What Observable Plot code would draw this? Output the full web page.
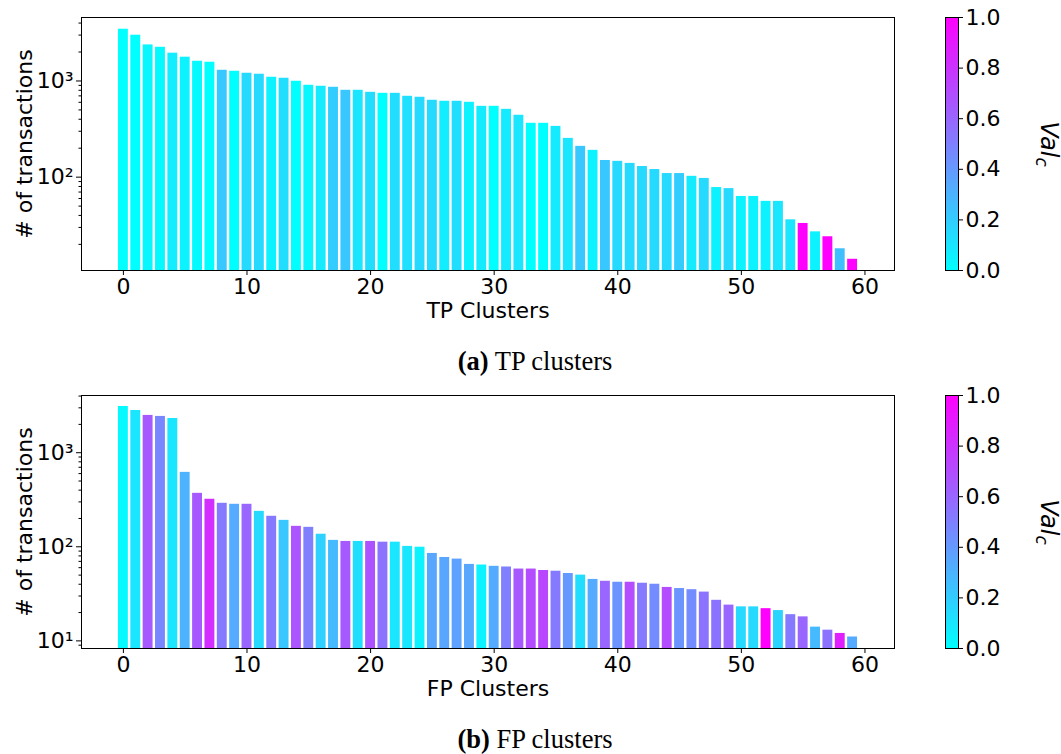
<!DOCTYPE html>
<html><head><meta charset="utf-8">
<script src="https://cdn.jsdelivr.net/npm/d3@7"></script>
<script src="https://cdn.jsdelivr.net/npm/@observablehq/plot@0.6"></script>
<style>
body{margin:0;background:#fff;}
#root{position:relative;width:1061px;height:754px;overflow:hidden;font-family:"DejaVu Sans",sans-serif;}
#root svg{position:absolute;}
#root svg text{font-family:"DejaVu Sans",sans-serif;}
.caption{position:absolute;white-space:nowrap;transform:translateX(-50%);font-family:"Liberation Serif","Times New Roman",serif;font-size:26.5px;line-height:26.5px;color:#000;}
.vlabel{position:absolute;white-space:nowrap;font-family:"DejaVu Sans",sans-serif;font-size:24px;font-style:italic;color:#000;transform:translate(-50%,-50%) rotate(90deg);}
.vlabel sub{font-size:17px;vertical-align:-5px;}
</style></head>
<body><div id="root"></div>
<script>
// ---- data ----
const clusters = [0,1,2,3,4,5,6,7,8,9,10,11,12,13,14,15,16,17,18,19,20,21,22,23,24,25,26,27,28,29,
  30,31,32,33,34,35,36,37,38,39,40,41,42,43,44,45,46,47,48,49,50,51,52,53,54,55,56,57,58,59];
const tpCounts = [3450,2990,2370,2240,1945,1767,1603,1566,1292,1262,1203,1175,1093,1067,993,902,881,860,800,800,
  762,744,744,693,677,630,615,615,600,545,545,507,440,363,363,337,253,209,190,149,
  146,139,129,120,109,109,102,97,78,76,63,63,56,56,36,33,27,24,18,14];
const tpVal = [0,0,0.03,0.02,0.07,0.05,0.02,0,0.22,0,0.15,0.15,0.05,0.13,0,0.03,0.08,0.2,0.22,0.1,
  0.13,0,0.13,0.12,0.15,0.15,0.07,0.13,0.05,0.08,0,0.08,0.1,0,0,0.08,0.1,0.22,0.05,0.22,
  0.15,0.15,0.15,0.15,0.15,0.2,0.08,0.15,0.05,0.15,0.05,0.05,0.05,0.1,0.1,1,0.05,1,0.25,1];
const fpCounts = [3100,2810,2490,2430,2310,618,370,320,290,283,283,238,211,191,165,161,136,117,114,114,
  114,112,112,101,99,85,77,74,65,64,62,61,58,58,56,55,52,50,45,43,
  42,42,41,40,37,36,35,33,27,24,23,23,22,21,19,18,14,13,12,11];
const fpVal = [0.02,0.1,0.65,0.47,0.1,0.3,0.65,0.82,0.52,0.33,0.6,0.15,0.52,0.22,0.67,0.5,0.18,0.27,0.65,0.13,
  0.68,0.55,0.1,0.1,0.05,0.35,0.35,0.37,0.35,0.05,0.33,0.5,0.65,0.7,0.72,0.52,0.4,0.13,0.33,0.6,
  0.42,0.7,0.52,0.45,0.7,0.42,0.45,0.55,0.55,0.6,0.15,0.15,1,0.17,0.52,0.6,0.27,0.55,0.88,0.33];
const xTicks = [0,10,20,30,40,50,60];
const tpMajor = [100,1000];
const tpMinor = [20,30,40,50,60,70,80,90,200,300,400,500,600,700,800,900,2000,3000,4000];
const fpMajor = [10,100,1000];
const fpMinor = [9,20,30,40,50,60,70,80,90,200,300,400,500,600,700,800,900,2000,3000,4000];
const cbTicks = [0,0.2,0.4,0.6,0.8,1.0];
const captions = [["(a)"," TP clusters"],["(b)"," FP clusters"]];

const sup = {1:"\u00B9",2:"\u00B2",3:"\u00B3"};
const fmtPow = d => "10" + sup[Math.round(Math.log10(d))];
const colorScale = {type:"linear", domain:[0,1], range:["#00ffff","#ff00ff"], interpolate:"rgb"};
const FS = 22;
const baseStyle = {fontFamily:"DejaVu Sans", fontSize:FS + "px", color:"#000", background:"transparent", overflow:"visible"};

function panel(counts, vals, xLabel, yDomain, major, minor) {
  const data = clusters.map((c,i)=>({c, n:counts[i], v:vals[i]}));
  return Plot.plot({
    width:900, height:330, marginLeft:81, marginRight:6, marginTop:17, marginBottom:60,
    style: baseStyle,
    x:{domain:[-3.39, 62.39]},
    y:{type:"log", domain:yDomain},
    color: colorScale,
    marks:[
      Plot.rect(data, {x1:d=>d.c-0.4, x2:d=>d.c+0.4, y1:()=>1, y2:"n", fill:"v", clip:true}),
      Plot.axisX({ticks:xTicks, tickSize:5, tickPadding:3, fontSize:FS, tickFormat:d=>String(d), label:xLabel, labelAnchor:"center", labelArrow:"none", labelOffset:47}),
      Plot.axisY({ticks:major, tickSize:5, tickPadding:3, fontSize:FS, tickFormat:fmtPow, label:"# of transactions", labelAnchor:"center", labelArrow:"none", labelOffset:65}),
      Plot.axisY({ticks:minor, tickSize:2.5, tickFormat:()=>"", label:null}),
      Plot.frame({stroke:"#000", strokeWidth:1})
    ]
  });
}

function colorbar() {
  const N = 253;
  const stops = Array.from({length:N}, (_,i)=>i/N);
  return Plot.plot({
    width:161, height:330, marginLeft:45, marginRight:103, marginTop:17, marginBottom:60,
    style: baseStyle,
    x:{domain:[0,1], axis:null},
    y:{domain:[0,1]},
    color: colorScale,
    marks:[
      Plot.rect(stops, {x1:0, x2:1, y1:d=>d, y2:d=>d+1/N, fill:d=>d+0.5/N, shapeRendering:"crispEdges"}),
      Plot.axisY({anchor:"right", ticks:cbTicks, tickSize:4, tickPadding:3, fontSize:FS, tickFormat:d=>d.toFixed(1), label:null}),
      Plot.frame({stroke:"#000", strokeWidth:1})
    ]
  });
}

const root = document.getElementById("root");
const panels = [
  panel(tpCounts, tpVal, "TP Clusters", [10.7, 4570], tpMajor, tpMinor),
  panel(fpCounts, fpVal, "FP Clusters", [8.3, 4055], fpMajor, fpMinor)
];
panels.forEach((p, k) => {
  const top = k * 378;
  p.style.left = "0px"; p.style.top = top + "px";
  root.appendChild(p);
  const cb = colorbar();
  cb.style.left = "900px"; cb.style.top = top + "px";
  root.appendChild(cb);
  const vl = document.createElement("div");
  vl.className = "vlabel";
  vl.style.left = "1047px"; vl.style.top = (144 + top) + "px";
  vl.innerHTML = "Val<sub>c</sub>";
  root.appendChild(vl);
  const cap = document.createElement("div");
  cap.className = "caption";
  cap.style.left = "535px"; cap.style.top = (348 + k * 378) + "px";
  const b = document.createElement("b"); b.textContent = captions[k][0];
  cap.appendChild(b); cap.appendChild(document.createTextNode(captions[k][1]));
  root.appendChild(cap);
});
</script>
</body></html>
